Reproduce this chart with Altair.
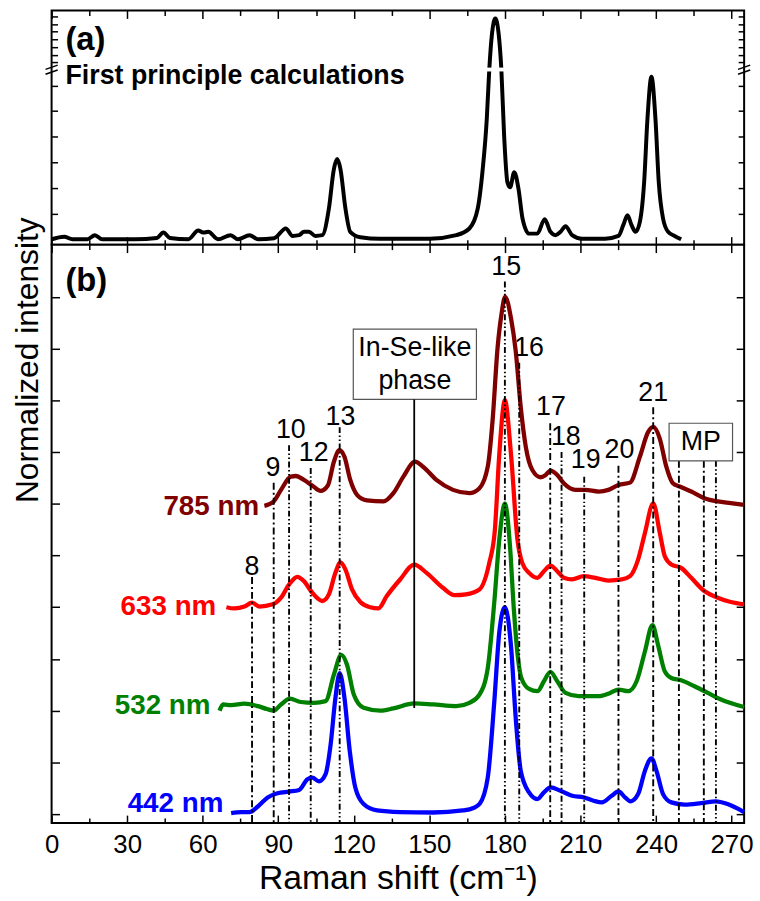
import altair as alt
import pandas as pd

FONT = "Liberation Sans"

# ---------------- panel (a): first principle calculation ----------------
# intensities in displayed units (axis is broken at BREAK_LEVEL)
calc_shift = [0, 5.0, 8.3, 14.2, 17.2, 20.1, 33.2, 41.8, 44.4, 47.0, 54.3, 58.2, 60.2, 62.2,
              66.1, 71.1, 74.0, 78.6, 81.9, 88.4, 93.0, 95.7, 98.3, 100.2, 102.2, 104.8, 107.5,
              110.1, 112.1, 113.4, 114.7, 116.7, 118.6, 122.6, 130.5, 150.2, 160.7, 165.9,
              169.2, 171.2, 172.8, 173.8, 174.9, 176.2, 177.5, 178.6, 179.7, 181.0, 182.1,
              183.7, 185.4, 187.0, 189.6, 192.9, 195.8, 198.1, 200.1, 202.1, 204.1, 206.7,
              210.6, 219.8, 225.1, 227.0, 228.7, 230.3, 231.9, 233.6, 235.3, 236.6, 238.2,
              239.8, 241.1, 242.8, 244.8, 247.4, 250.0]
calc_int = [0, 0.10, 0, 0, 0.16, 0, 0, 0.05, 0.26, 0.05, 0, 0.34, 0.26, 0.29,
            0, 0.16, 0, 0.16, 0, 0.04, 0.42, 0.13, 0.16, 0.29, 0.29, 0.13, 0.16,
            1.19, 2.74, 3.13, 2.74, 1.19, 0.29, 0.08, 0.02, 0.02, 0.16, 0.42,
            1.19, 2.74, 4.68, 6.62, 8.04, 8.62, 8.04, 6.62, 4.04, 2.23, 2.03,
            2.62, 1.97, 0.81, 0.22, 0.22, 0.78, 0.29, 0.16, 0.29, 0.51, 0.16,
            0.02, 0.02, 0.13, 0.55, 0.94, 0.55, 0.29, 0.68, 2.23, 4.68, 6.34,
            4.68, 2.23, 0.81, 0.29, 0.13, 0]
BREAK_LEVEL = 6.62

# ---------------- panel (b): measured spectra ----------------
shift_785 = [84.5, 88.2, 91.1, 95.0, 97.0, 100.2, 103.5, 106.8, 109.7, 112.1, 114.3, 116.3,
             118.6, 121.3, 125.2, 131.8, 135.7, 139.7, 144.3, 147.5, 152.8, 159.4, 165.9,
             169.9, 173.2, 175.1, 177.1, 178.7, 180.1, 182.4, 184.3, 186.3, 188.3, 190.9,
             194.2, 196.2, 198.1, 200.8, 203.4, 208.0, 211.9, 217.2, 221.1, 225.1, 229.7,
             233.6, 236.9, 238.9, 241.5, 244.1, 246.7, 249.4, 254.0, 259.2, 264.5, 269.7, 275.0]
int_785 = [-0.01, 0.011, 0.067, 0.131, 0.134, 0.115, 0.088, 0.062, 0.088, 0.203, 0.259, 0.227,
           0.115, 0.043, 0.016, 0.011, 0.051, 0.131, 0.203, 0.179, 0.115, 0.067, 0.051,
           0.075, 0.179, 0.40, 0.754, 0.92, 1.0, 0.898, 0.738, 0.466, 0.275, 0.163,
           0.128, 0.139, 0.160, 0.139, 0.099, 0.067, 0.067, 0.059, 0.067, 0.091, 0.102,
           0.227, 0.347, 0.371, 0.315, 0.179, 0.099, 0.083, 0.059, 0.027, 0.011, 0.003, -0.005]

shift_633 = [69.4, 72.6, 76.6, 79.6, 82.5, 87.8, 91.1, 94.3, 97.6, 100.2, 103.5, 107.5, 110.1,
             112.7, 114.7, 116.7, 119.3, 122.6, 126.5, 129.8, 133.1, 138.4, 144.0, 148.9,
             155.4, 160.0, 164.5, 169.9, 173.8, 176.0, 177.8, 180.0, 182.4, 185.0, 186.9,
             189.6, 192.9, 195.5, 198.1, 200.8, 203.4, 206.7, 211.3, 215.9, 221.1, 226.4,
             229.7, 232.9, 235.6, 238.9, 241.5, 243.5, 246.1, 250.0, 254.0, 259.2, 264.5,
             269.7, 275.0]
int_633 = [0.0, -0.006, 0.003, 0.022, 0.003, 0.014, 0.046, 0.110, 0.147, 0.126, 0.070, 0.030, 0.062,
           0.166, 0.217, 0.182, 0.086, 0.025, 0.0, -0.006, 0.054, 0.134, 0.206, 0.166,
           0.094, 0.058, 0.062, 0.086, 0.214, 0.37, 0.743, 1.0, 0.743, 0.326, 0.214,
           0.166, 0.142, 0.174, 0.201, 0.174, 0.142, 0.134, 0.150, 0.142, 0.129, 0.134,
           0.150, 0.230, 0.358, 0.502, 0.36, 0.246, 0.206, 0.190, 0.142, 0.078, 0.046,
           0.025, 0.014]

shift_532 = [66.7, 68.1, 71.3, 76.6, 81.9, 85.5, 88.2, 91.1, 94.7, 98.9, 104.2, 108.8, 112.1,
             115.0, 117.3, 120.0, 123.9, 130.5, 135.7, 144.0, 151.5, 160.7, 165.9, 169.9,
             173.2, 175.8, 177.8, 180.0, 182.0, 183.5, 184.8, 186.5, 189.6, 192.9, 195.5,
             198.1, 200.8, 204.1, 209.3, 217.2, 221.8, 225.1, 229.0, 232.3, 235.6, 238.6,
             240.8, 243.5, 246.1, 250.0, 255.3, 260.6, 265.8, 275.0]
int_532 = [0.0, 0.03, 0.027, 0.034, 0.022, 0.008, 0.0, 0.030, 0.058, 0.042, 0.038, 0.046, 0.174,
           0.270, 0.222, 0.078, 0.014, 0.0, 0.011, 0.035, 0.030, 0.022, 0.038, 0.078,
           0.206, 0.526, 0.83, 1.0, 0.80, 0.50, 0.30, 0.16, 0.105, 0.094, 0.142,
           0.187, 0.142, 0.086, 0.070, 0.070, 0.086, 0.102, 0.094, 0.142, 0.286, 0.414,
           0.318, 0.190, 0.158, 0.147, 0.118, 0.086, 0.054, 0.018]

shift_442 = [71.3, 75.3, 78.6, 81.9, 85.8, 89.7, 94.3, 98.3, 101.6, 103.5, 106.2, 108.8, 110.8,
             112.7, 114.4, 116.3, 118.4, 120.6, 123.9, 129.2, 138.4, 151.5, 163.3, 167.5,
             170.0, 173.2, 175.8, 177.8, 180.0, 182.4, 184.3, 186.3, 189.6, 192.9, 195.5,
             198.1, 202.1, 206.7, 211.3, 215.2, 218.5, 222.4, 225.1, 227.7, 229.9, 232.9,
             235.6, 238.2, 240.2, 242.8, 246.1, 251.4, 257.9, 263.8, 268.4, 275.0]
int_442 = [0.005, 0.01, 0.01, 0.037, 0.081, 0.101, 0.109, 0.117, 0.169, 0.177, 0.158, 0.193, 0.337,
           0.561, 0.681, 0.561, 0.305, 0.129, 0.049, 0.018, 0.010, 0.008, 0.018, 0.03,
           0.05, 0.177, 0.545, 0.881, 1.0, 0.816, 0.465, 0.209, 0.105, 0.073, 0.105,
           0.129, 0.113, 0.089, 0.081, 0.065, 0.057, 0.089, 0.110, 0.081, 0.062, 0.097,
           0.209, 0.270, 0.209, 0.097, 0.057, 0.046, 0.053, 0.062, 0.049, 0.010]

series_names = ["785 nm", "633 nm", "532 nm", "442 nm"]
series_offsets = [1.5, 1.0, 0.5, 0.0]
series_colors = ["#800000", "#ff0000", "#008000", "#0000ff"]
series_shift = [shift_785, shift_633, shift_532, shift_442]
series_int = [int_785, int_633, int_532, int_442]
name_label_x = [82.4, 65.4, 63.1, 68.2]
name_label_y = [1.486, 1.002, 0.523, 0.048]

mode_names = ["8", "9", "10", "12", "13", "15", "16", "17", "18", "19", "20", "21"]
mode_shift = [79.6, 88.2, 94.3, 102.9, 114.4, 180.0, 185.7, 198.0, 202.5, 211.5, 225.1, 238.9]
mode_top = [1.146, 1.601, 1.783, 1.673, 1.870, 2.574, 2.181, 1.889, 1.750, 1.630, 1.683, 1.966]
mode_style = ["dd", "dd", "ddd", "ddd", "ddd", "ddd", "ddd", "dd", "ddd", "ddd", "dd", "dd"]
mode_label_x = [79.6, 87.9, 95.0, 104.1, 114.7, 180.5, 189.6, 198.3, 204.2, 212.1, 225.5, 238.9]
mode_label_y = [1.194, 1.673, 1.855, 1.745, 1.918, 2.646, 2.253, 1.966, 1.822, 1.711, 1.759, 2.037]
mp_shift = [249.1, 259.0, 263.8]
mp_style = ["dd", "dd", "ddd"]
mp_top = 1.707
mp_box = [245.2, 270.4, 1.707, 1.889]
inse_shift = 144.0
inse_bottom = 0.513
inse_box = [119.8, 168.7, 2.004, 2.344]
inse_text = ["In-Se-like", "phase"]
inse_text_y = [2.253, 2.095]

X_DOMAIN = [0, 275]
YA_DOMAIN = [-0.21, 8.93]
YB_DOMAIN = [-0.043, 2.752]
x_major = [0, 30, 60, 90, 120, 150, 180, 210, 240, 270]
x_minor = [15, 45, 75, 105, 135, 165, 195, 225, 255]
ya_ticks = [1, 2, 3, 4, 5, 6, 6.9, 7.2, 7.5, 7.8, 8.1, 8.4, 8.7]
yb_ticks = [0, 0.25, 0.5, 0.75, 1.0, 1.25, 1.5, 1.75, 2.0, 2.25, 2.5]

W, HA, HB = 698, 236, 583

xs = alt.Scale(domain=X_DOMAIN, nice=False, zero=False)
yas = alt.Scale(domain=YA_DOMAIN, nice=False, zero=False)
ybs = alt.Scale(domain=YB_DOMAIN, nice=False, zero=False)


def tick_axis(orient, values, size):
    return alt.Axis(orient=orient, values=values, tickSize=size, offset=-size, domain=False,
                    grid=False, labels=False, ticks=True, tickColor="black", tickWidth=1.5,
                    title=None)


dummy = pd.DataFrame({"x": [100.0], "y": [1.0]})


def tick_layer(ys, x_axis, y_axis):
    return alt.Chart(dummy).mark_point(opacity=0).encode(
        x=alt.X("x:Q", scale=xs, axis=x_axis),
        y=alt.Y("y:Q", scale=ys, axis=y_axis))


def nx(field):
    return alt.X(field, scale=xs, axis=None)


# ---------- panel (a) ----------
calc_df = pd.DataFrame({"shift": calc_shift, "y": calc_int})
a_curve = alt.Chart(calc_df).mark_line(color="black", strokeWidth=4, interpolate="monotone").encode(
    x=alt.X("shift:Q", scale=xs, axis=tick_axis("bottom", x_major, 8)),
    y=alt.Y("y:Q", scale=yas, axis=tick_axis("left", ya_ticks, 6)))
a_ticks = [
    tick_layer(yas, tick_axis("top", x_major, 8), tick_axis("right", ya_ticks, 6)),
    tick_layer(yas, tick_axis("bottom", x_minor, 5), None),
    tick_layer(yas, tick_axis("top", x_minor, 5), None),
]
gap_df = pd.DataFrame({"x": [171.0], "x2": [181.0], "y": [BREAK_LEVEL - 0.07], "y2": [BREAK_LEVEL + 0.08]})
a_gap = alt.Chart(gap_df).mark_rect(color="white").encode(
    x=nx("x:Q"), x2="x2:Q", y=alt.Y("y:Q", scale=yas, axis=None), y2="y2:Q")
brk_df = pd.DataFrame({"x": [X_DOMAIN[0], X_DOMAIN[1]], "y": [BREAK_LEVEL, BREAK_LEVEL]})
a_brk = alt.Chart(brk_df).mark_point(
    shape="M-1,-0.05L1,-0.75M-1,0.75L1,0.05", size=150, filled=False, stroke="black",
    strokeWidth=1.5, opacity=1).encode(x=nx("x:Q"), y=alt.Y("y:Q", scale=yas, axis=None))
atext_df = pd.DataFrame({"x": [5.5], "y": [7.78], "t": ["(a)"]})
a_lab = alt.Chart(atext_df).mark_text(align="left", baseline="middle", font=FONT, fontSize=33,
                                       fontWeight="bold", color="black").encode(
    x=nx("x:Q"), y=alt.Y("y:Q", scale=yas, axis=None), text="t:N")
ftext_df = pd.DataFrame({"x": [5.5], "y": [6.36], "t": ["First principle calculations"]})
a_first = alt.Chart(ftext_df).mark_text(align="left", baseline="middle", font=FONT, fontSize=27,
                                         fontWeight="bold", color="black").encode(
    x=nx("x:Q"), y=alt.Y("y:Q", scale=yas, axis=None), text="t:N")

panel_a = alt.layer(a_curve, *a_ticks, a_gap, a_brk, a_lab, a_first).resolve_axis(
    x="independent", y="independent").properties(width=W, height=HA)

# ---------- panel (b) ----------
rows = []
for name, off, sx, si in zip(series_names, series_offsets, series_shift, series_int):
    for s, v in zip(sx, si):
        rows.append({"shift": s, "y": v + off, "series": name})
spec_df = pd.DataFrame(rows)
color = alt.Color("series:N", scale=alt.Scale(domain=series_names, range=series_colors), legend=None)

bottom_axis = alt.Axis(orient="bottom", values=x_major, tickSize=8, offset=-8, domain=False,
                       grid=False, labels=True, labelFont=FONT, labelFontSize=26,
                       labelColor="black", labelBaseline="alphabetic", labelPadding=30,
                       labelFlush=False, labelOverlap=False, tickColor="black", tickWidth=1.5,
                       title="Raman shift (cm⁻¹)", titleFont=FONT, titleFontSize=34,
                       titleFontWeight="normal", titleColor="black", titleBaseline="alphabetic",
                       titleY=74)
left_axis = alt.Axis(orient="left", values=yb_ticks, tickSize=8, offset=-8, domain=False,
                     grid=False, labels=False, tickColor="black", tickWidth=1.5,
                     title="Normalized intensity", titleFont=FONT, titleFontSize=32,
                     titleFontWeight="normal", titleColor="black", titleAngle=270,
                     titleBaseline="alphabetic", titleAlign="center", titleX=-22, titleY=116)

b_curves = alt.Chart(spec_df).mark_line(strokeWidth=4.3, interpolate="monotone").encode(
    x=alt.X("shift:Q", scale=xs, axis=bottom_axis),
    y=alt.Y("y:Q", scale=ybs, axis=left_axis),
    color=color, detail="series:N")
b_ticks = [
    tick_layer(ybs, tick_axis("top", x_major, 8), tick_axis("right", yb_ticks, 8)),
    tick_layer(ybs, tick_axis("bottom", x_minor, 5), None),
    tick_layer(ybs, tick_axis("top", x_minor, 5), None),
]

vl_df = pd.DataFrame({
    "x": mode_shift + mp_shift,
    "top": mode_top + [mp_top] * len(mp_shift),
    "bottom": [YB_DOMAIN[0]] * (len(mode_shift) + len(mp_shift)),
    "style": mode_style + mp_style,
})
dash = alt.StrokeDash("style:N", scale=alt.Scale(domain=["dd", "ddd"],
                                                 range=[[7, 3, 2, 3], [6, 2.5, 1.5, 2.5, 1.5, 2.5]]),
                      legend=None)
b_vlines = alt.Chart(vl_df).mark_rule(color="black", strokeWidth=1.9).encode(
    x=nx("x:Q"), y=alt.Y("top:Q", scale=ybs, axis=None), y2="bottom:Q", strokeDash=dash)

ml_df = pd.DataFrame({"x": mode_label_x, "y": mode_label_y, "t": mode_names})
b_mlab = alt.Chart(ml_df).mark_text(font=FONT, fontSize=27, color="black", align="center",
                                     baseline="middle").encode(
    x=nx("x:Q"), y=alt.Y("y:Q", scale=ybs, axis=None), text="t:N")

box_df = pd.DataFrame({"x": [inse_box[0], mp_box[0]], "x2": [inse_box[1], mp_box[1]],
                       "y": [inse_box[2], mp_box[2]], "y2": [inse_box[3], mp_box[3]]})
b_boxes = alt.Chart(box_df).mark_rect(fill="white", stroke="#555555", strokeWidth=1.2).encode(
    x=nx("x:Q"), x2="x2:Q", y=alt.Y("y:Q", scale=ybs, axis=None), y2="y2:Q")
inse_line_df = pd.DataFrame({"x": [inse_shift], "y": [inse_box[2]], "y2": [inse_bottom]})
b_inse_line = alt.Chart(inse_line_df).mark_rule(color="black", strokeWidth=1.8).encode(
    x=nx("x:Q"), y=alt.Y("y:Q", scale=ybs, axis=None), y2="y2:Q")
boxtext_df = pd.DataFrame({"x": [(inse_box[0] + inse_box[1]) / 2] * 2 + [(mp_box[0] + mp_box[1]) / 2],
                           "y": inse_text_y + [(mp_box[2] + mp_box[3]) / 2],
                           "t": inse_text + ["MP"]})
b_boxtext = alt.Chart(boxtext_df).mark_text(font=FONT, fontSize=27, color="black", align="center",
                                             baseline="middle").encode(
    x=nx("x:Q"), y=alt.Y("y:Q", scale=ybs, axis=None), text="t:N")

nl_df = pd.DataFrame({"x": name_label_x, "y": name_label_y, "series": series_names})
b_names = alt.Chart(nl_df).mark_text(font=FONT, fontSize=28, fontWeight="bold", align="right",
                                      baseline="middle").encode(
    x=nx("x:Q"), y=alt.Y("y:Q", scale=ybs, axis=None), text="series:N", color=color)
btext_df = pd.DataFrame({"x": [5.5], "y": [2.574], "t": ["(b)"]})
b_lab = alt.Chart(btext_df).mark_text(align="left", baseline="middle", font=FONT, fontSize=33,
                                       fontWeight="bold", color="black").encode(
    x=nx("x:Q"), y=alt.Y("y:Q", scale=ybs, axis=None), text="t:N")

panel_b = alt.layer(b_curves, *b_ticks, b_vlines, b_boxes, b_inse_line, b_boxtext, b_mlab,
                    b_names, b_lab).resolve_axis(
    x="independent", y="independent").properties(width=W, height=HB)

chart = alt.vconcat(panel_a, panel_b, spacing=0, bounds="flush").properties(
    padding={"left": 10, "top": 5, "right": 5, "bottom": 2},
    background="white",
).configure_view(stroke="black", strokeWidth=2)

chart.save("out.html", embed_options={"renderer": "svg", "actions": False})
